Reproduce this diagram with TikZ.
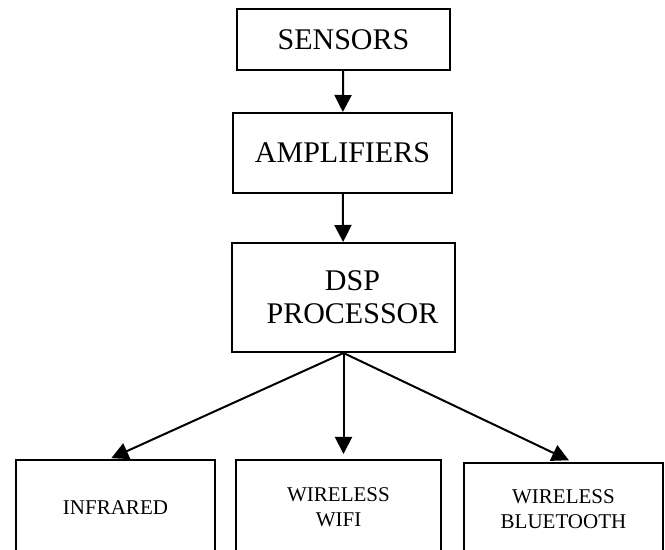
\documentclass[tikz,border=0pt]{standalone}
\usepackage{fontspec}
\setmainfont{Liberation Serif}
\usepackage{tikz}
\usetikzlibrary{arrows.meta}
\tikzstyle{block}   = [rectangle, draw=black, line width=1pt, align=center, inner sep=0pt, font=\fontsize{15}{16.5}\selectfont]
\tikzstyle{output}  = [rectangle, draw=black, line width=1pt, align=center, inner sep=0pt, minimum width=99.5pt, minimum height=47.5pt, font=\fontsize{10.5}{12.5}\selectfont]
\tikzstyle{arrow}   = [line width=1pt, -{Triangle[length=8.5pt, width=8.5pt]}]

\begin{document}
\begin{tikzpicture}[x=0.5pt, y=-0.5pt, node distance=60pt]
    \useasboundingbox (0,0) rectangle (665,550);
    \clip (0,0) rectangle (665,550);
    % Nodes
    %% Signal chain
    \node (sensors)    [block, minimum width=106.5pt, minimum height=30.5pt] at (343.5,39.5) {SENSORS};
    \node (amplifiers) [block, minimum width=109.5pt, minimum height=40pt, below of=sensors, yshift=3.25pt, xshift=-0.5pt] {AMPLIFIERS};
    \node (dsp)        [block, minimum width=111.5pt, minimum height=54.5pt, below of=amplifiers, yshift=-12.25pt, xshift=0.5pt] {\hspace{9pt}DSP\\\hspace{9pt}PROCESSOR};
    %% Outputs
    \node (wifi)       [output, minimum width=102.5pt, below of=dsp, yshift=-45pt, xshift=-2.5pt] {WIRELESS\\WIFI};
    \node (infrared)   [output, left of=wifi, xshift=-51.5pt] {INFRARED};
    \node (bluetooth)  [output, minimum height=46pt, right of=wifi, xshift=52.5pt, yshift=-0.75pt] {WIRELESS\\BLUETOOTH};

    % Arrows
    \draw [arrow] (sensors)     -- (amplifiers);
    \draw [arrow] (amplifiers)  -- (dsp);
    \draw [arrow, shorten >=1pt] (dsp.south) -- ([xshift=-3pt]infrared.north);
    \draw [arrow, shorten >=2.5pt] (dsp.south) -- (dsp.south |- wifi.north);
    \draw [arrow, shorten >=2pt] (dsp.south) -- ([xshift=4.5pt]bluetooth.north);
\end{tikzpicture}
\end{document}
